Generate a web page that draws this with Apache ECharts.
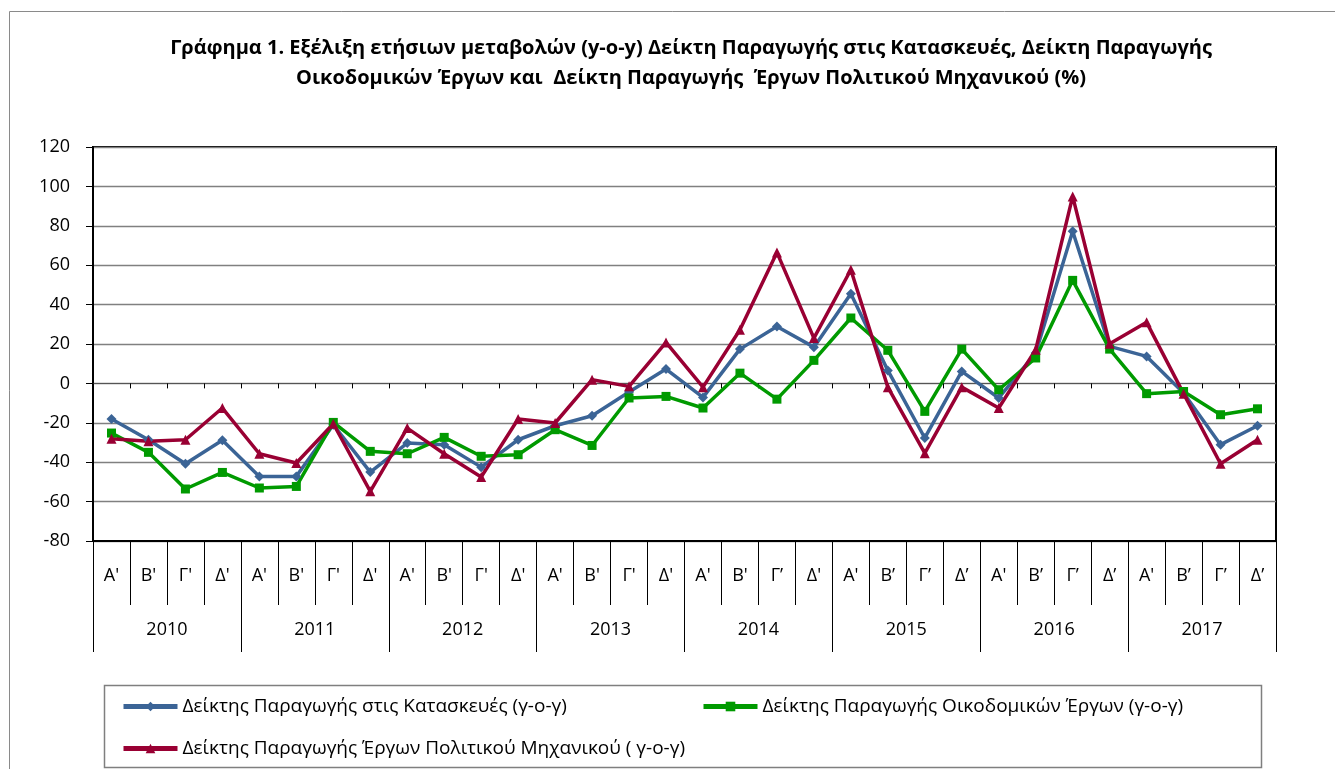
<!DOCTYPE html>
<html>
<head>
<meta charset="utf-8">
<script src="https://cdn.jsdelivr.net/npm/echarts@6/dist/echarts.min.js"></script>
<style>
  html, body { margin: 0; padding: 0; background: #fff; }
  #chart { width: 1335px; height: 769px; }
</style>
</head>
<body>
<div id="chart"></div>
<script>
// τρίμηνα 2010-2017
var quarters = [
  "Α'", "Β'", "Γ'", "Δ'", "Α'", "Β'", "Γ'", "Δ'",
  "Α'", "Β'", "Γ'", "Δ'", "Α'", "Β'", "Γ'", "Δ'",
  "Α'", "Β'", "Γ’", "Δ'", "Α'", "Β’", "Γ’", "Δ’",
  "Α'", "Β’", "Γ’", "Δ’", "Α'", "Β’", "Γ’", "Δ’"
];
var years = ['2010', '2011', '2012', '2013', '2014', '2015', '2016', '2017'];
var yTicks = { min: -80, max: 120, step: 20 };

var seriesNames = [
  'Δείκτης Παραγωγής στις Κατασκευές (γ-ο-γ)',
  'Δείκτης Παραγωγής Οικοδομικών Έργων (γ-ο-γ)',
  'Δείκτης Παραγωγής Έργων Πολιτικού Μηχανικού ( γ-ο-γ)'
];
var kataskeves = [-18.1, -28.6, -40.8, -28.9, -47.2, -47.2, -21, -45, -30.3, -31.1, -42.5, -28.6, -21.5, -16.4, -4.4, 7.3,
  -7.1, 17.4, 28.9, 18.4, 45.5, 6.6, -27.7, 6.1, -7.4, 15.4, 77.2, 18.8, 13.7, -4.9, -31.1, -21.5];
var oikodomika = [-25.2, -35, -53.6, -45.2, -53.1, -52.3, -19.8, -34.5, -35.7, -27.4, -37, -36.2, -23.5, -31.5, -7.4, -6.6,
  -12.5, 5.2, -8, 11.7, 33.2, 16.8, -14.2, 17.4, -3.2, 12.9, 52.3, 17.4, -5.2, -4.1, -15.9, -12.9];
var politikou = [-28.1, -29.4, -28.6, -12.5, -35.7, -40.4, -20.5, -54.8, -22.7, -35.7, -47.5, -18.1, -20.1, 1.9, -1.5, 20.8,
  -1.9, 27.2, 66.5, 23, 57.7, -1.9, -35.4, -1.9, -12.5, 17.1, 94.9, 20.1, 31, -5.2, -40.8, -28.6];

var colors = ['#3B6496', '#009A00', '#990033'];
var font = '"Open Sans", "Liberation Sans", sans-serif';

var myChart = echarts.init(document.getElementById('chart'));

function makeSeries(i, data, symbol, size) {
  return {
    name: seriesNames[i],
    type: 'line',
    xAxisIndex: 0,
    data: data,
    symbol: symbol,
    symbolSize: size,
    showAllSymbol: true,
    lineStyle: { color: colors[i], width: 3.5 },
    itemStyle: { color: colors[i] },
    emphasis: { disabled: true },
    animation: false
  };
}

function legendFor(i, left, top) {
  return {
    data: [seriesNames[i]],
    left: left,
    top: top,
    padding: 0,
    itemWidth: 54,
    itemHeight: 12,
    selectedMode: false,
    lineStyle: { width: 5 },
    textStyle: { fontFamily: font, fontSize: 19, color: '#000' }
  };
}

var option = {
  backgroundColor: '#fff',
  animation: false,
  title: {
    text: 'Γράφημα 1. Εξέλιξη ετήσιων μεταβολών (y-o-y) Δείκτη Παραγωγής στις Κατασκευές, Δείκτη Παραγωγής\nΟικοδομικών Έργων και  Δείκτη Παραγωγής  Έργων Πολιτικού Μηχανικού (%)',
    left: 686,
    top: 28,
    textAlign: 'center',
    textStyle: { fontFamily: font, fontSize: 20, fontWeight: 'bold', color: '#000', lineHeight: 30 }
  },
  graphic: [
    { type: 'rect', shape: { x: 9.5, y: 11.5, width: 1340, height: 800 }, style: { fill: null, stroke: '#8a8a8a', lineWidth: 1 }, silent: true },
    { type: 'rect', shape: { x: 104.5, y: 685.5, width: 1157, height: 82 }, style: { fill: null, stroke: '#7f7f7f', lineWidth: 1.5 }, silent: true }
  ],
  legend: [
    legendFor(0, 121, 697),
    legendFor(1, 701, 697),
    legendFor(2, 121, 739)
  ],
  grid: {
    left: 93, right: 59, top: 147, bottom: 228,
    show: true, borderColor: '#000', borderWidth: 2,
    outerBoundsMode: 'none'
  },
  xAxis: [
    {
      type: 'category',
      data: quarters,
      position: 'bottom',
      boundaryGap: true,
      axisLine: { onZero: false, show: true, lineStyle: { color: '#000', width: 2 } },
      axisTick: { show: true, length: 64, lineStyle: { color: '#000', width: 1 } },
      axisLabel: { interval: 0, margin: 26, fontFamily: font, fontSize: 18, color: '#000' },
      splitLine: { show: false }
    },
    {
      type: 'category',
      data: years,
      position: 'bottom',
      offset: 64,
      boundaryGap: true,
      axisLine: { onZero: false, show: false },
      axisTick: { show: true, length: 47, lineStyle: { color: '#000', width: 1 } },
      axisLabel: { interval: 0, margin: 16, fontFamily: font, fontSize: 18, color: '#000' },
      splitLine: { show: false }
    },
    {
      type: 'category',
      data: quarters,
      position: 'bottom',
      boundaryGap: true,
      axisLine: { onZero: true, show: true, lineStyle: { color: '#555', width: 1 } },
      axisTick: { show: true, length: 5, interval: 0, lineStyle: { color: '#000', width: 1 } },
      axisLabel: { show: false },
      splitLine: { show: false }
    }
  ],
  yAxis: {
    type: 'value',
    min: yTicks.min,
    max: yTicks.max,
    interval: yTicks.step,
    axisLine: { show: true, lineStyle: { color: '#000', width: 2 } },
    axisTick: { show: true, length: 7, lineStyle: { color: '#000', width: 1 } },
    axisLabel: { margin: 23, fontFamily: font, fontSize: 18, color: '#000' },
    splitLine: { show: true, lineStyle: { color: '#808080', width: 1.3 } }
  },
  series: [
    makeSeries(0, kataskeves, 'diamond', 10),
    makeSeries(1, oikodomika, 'rect', 9),
    makeSeries(2, politikou, 'triangle', 10)
  ]
};
myChart.setOption(option);
</script>
</body>
</html>
